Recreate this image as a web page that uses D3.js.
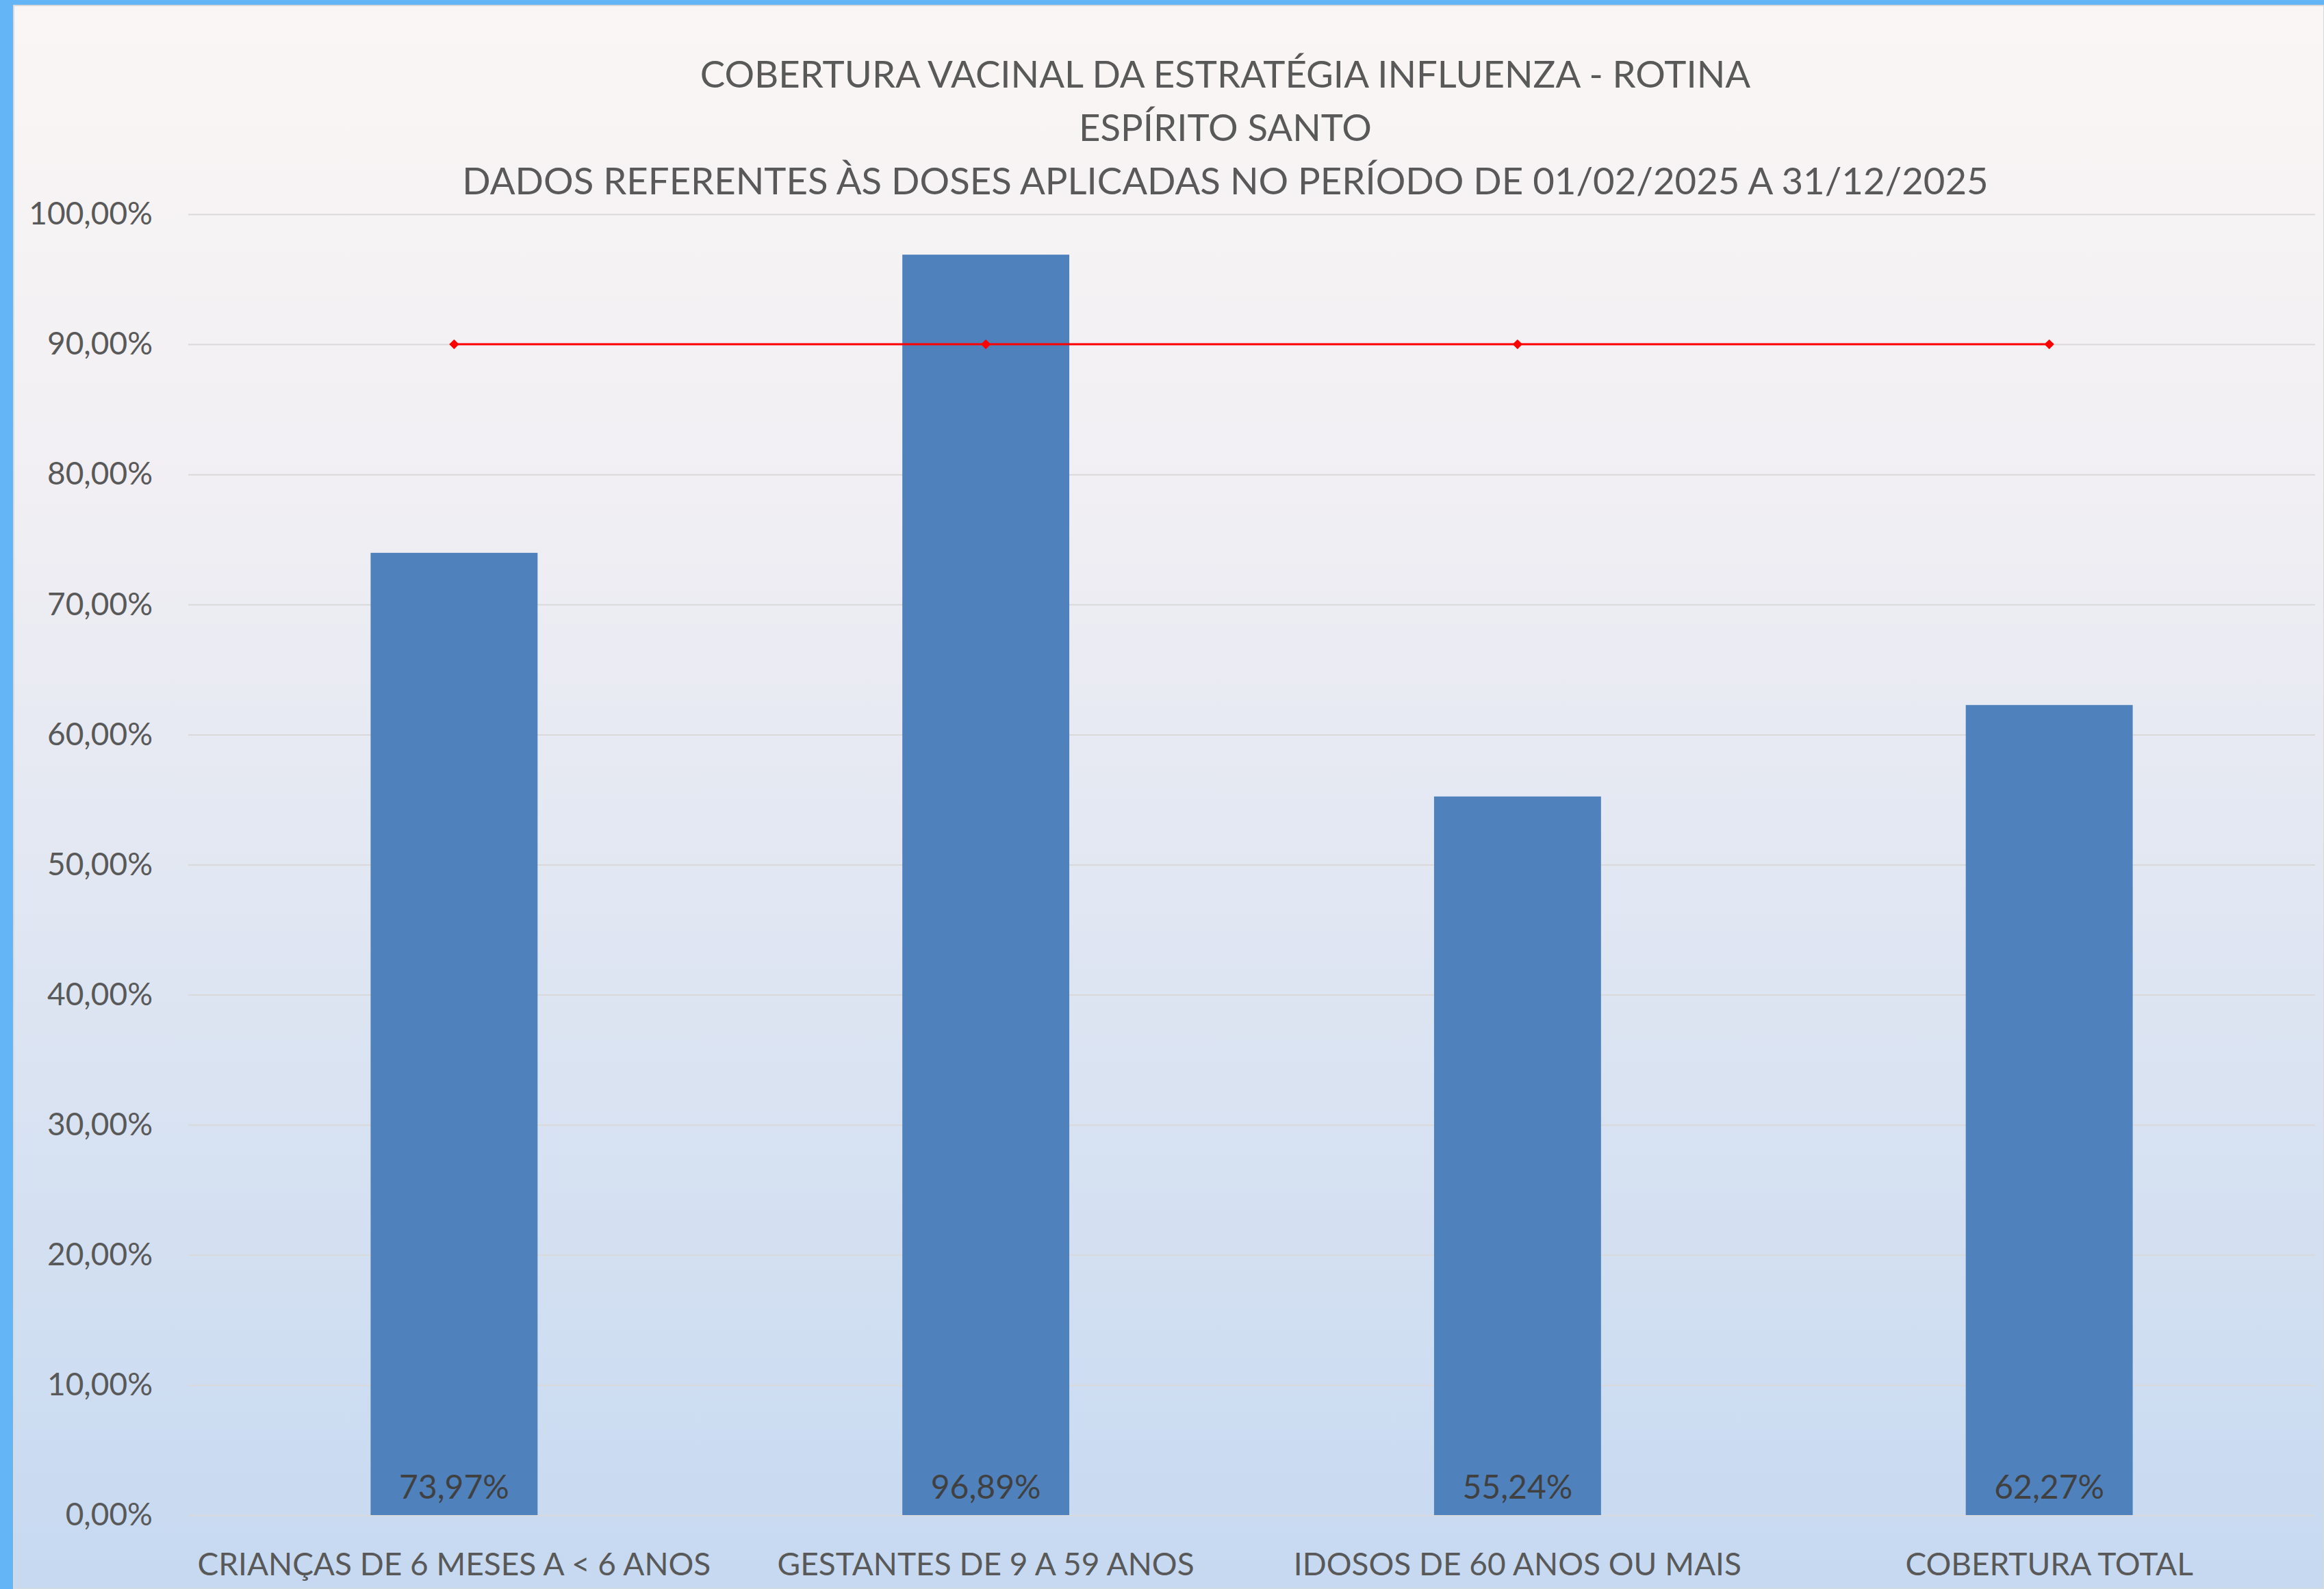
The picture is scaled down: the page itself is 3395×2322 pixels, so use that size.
<!DOCTYPE html>
<html>
<head>
<meta charset="utf-8">
<script src="https://cdn.jsdelivr.net/npm/d3@7"></script>
<style>
  body { margin: 0; background: #64b5f6; }
  svg { display: block; }
</style>
</head>
<body>
<div id="chart"></div>
<script>
var W = 3395, H = 2322;

// data
var categories = ["CRIANÇAS DE 6 MESES A < 6 ANOS", "GESTANTES DE 9 A 59 ANOS", "IDOSOS DE 60 ANOS OU MAIS", "COBERTURA TOTAL"];
var coverage = [0.7397, 0.9689, 0.5524, 0.6227];
var goal = [0.90, 0.90, 0.90, 0.90];
var yTicks = [0, 0.1, 0.2, 0.3, 0.4, 0.5, 0.6, 0.7, 0.8, 0.9, 1.0];
var titleLines = [
  "COBERTURA VACINAL DA ESTRATÉGIA INFLUENZA - ROTINA",
  "ESPÍRITO SANTO",
  "DADOS REFERENTES ÀS DOSES APLICADAS NO PERÍODO DE 01/02/2025 A 31/12/2025"
];

var plot = { left: 275, right: 3382, top: 313, bottom: 2214 };
var font = "Lato, 'Open Sans', sans-serif";

var ptBR = d3.formatLocale({ decimal: ",", thousands: ".", grouping: [3], currency: ["R$", ""] });
var pct = ptBR.format(".2%");

var svg = d3.select("#chart").append("svg")
    .attr("width", W)
    .attr("height", H);

// background gradient, like the excel chart area
var grad = svg.append("defs").append("linearGradient")
    .attr("id", "bg")
    .attr("x1", 0).attr("y1", 0).attr("x2", 0).attr("y2", 1);
grad.append("stop").attr("offset", "0%").attr("stop-color", "#faf6f5");
grad.append("stop").attr("offset", "30%").attr("stop-color", "#f1eff3");
grad.append("stop").attr("offset", "100%").attr("stop-color", "#c6d9f1");

svg.append("rect")
    .attr("x", 0).attr("y", 0)
    .attr("width", W).attr("height", H)
    .attr("fill", "#64b5f6");

svg.append("rect")
    .attr("x", 20).attr("y", 8)
    .attr("width", W - 20).attr("height", H - 8)
    .attr("fill", "url(#bg)")
    .attr("stroke", "#d9d9d9")
    .attr("stroke-width", 2);

var x = d3.scaleBand()
    .domain(categories)
    .range([plot.left, plot.right])
    .padding(0);

var y = d3.scaleLinear()
    .domain([0, 1])
    .range([plot.bottom, plot.top]);

var barW = x.bandwidth() * 0.314;

// y axis + gridlines
var yAxis = svg.append("g")
    .attr("transform", "translate(" + plot.left + ",0)")
    .call(d3.axisLeft(y)
        .tickValues(yTicks)
        .tickFormat(pct)
        .tickSize(-(plot.right - plot.left))
        .tickPadding(52));

yAxis.select(".domain").remove();
yAxis.selectAll(".tick line")
    .attr("stroke", "#d9d9d9")
    .attr("stroke-width", 2);
yAxis.selectAll(".tick text")
    .attr("fill", "#595959")
    .style("font-family", font)
    .style("font-size", "46px");

// bars
svg.selectAll(".bar")
    .data(coverage)
    .enter().append("rect")
    .attr("class", "bar")
    .attr("x", function (d, i) { return x(categories[i]) + (x.bandwidth() - barW) / 2; })
    .attr("y", function (d) { return y(d); })
    .attr("width", barW)
    .attr("height", function (d) { return y(0) - y(d); })
    .attr("fill", "#4f81bd");

// data labels sit at the bottom of the bars
svg.selectAll(".bar-label")
    .data(coverage)
    .enter().append("text")
    .attr("class", "bar-label")
    .attr("x", function (d, i) { return x(categories[i]) + x.bandwidth() / 2; })
    .attr("y", y(0) - 24)
    .attr("text-anchor", "middle")
    .attr("fill", "#404040")
    .style("font-family", font)
    .style("font-size", "48px")
    .text(function (d) { return pct(d); });

// goal line (90%)
var line = d3.line()
    .x(function (d, i) { return x(categories[i]) + x.bandwidth() / 2; })
    .y(function (d) { return y(d); });

svg.append("path")
    .datum(goal)
    .attr("d", line)
    .attr("fill", "none")
    .attr("stroke", "#ff0000")
    .attr("stroke-width", 3);

svg.selectAll(".goal-mark")
    .data(goal)
    .enter().append("path")
    .attr("class", "goal-mark")
    .attr("transform", function (d, i) {
        return "translate(" + (x(categories[i]) + x.bandwidth() / 2) + "," + y(d) + ")";
    })
    .attr("d", d3.symbol().type(d3.symbolDiamond2).size(130))
    .attr("fill", "#ff0000");

// x axis labels
var xAxis = svg.append("g")
    .attr("transform", "translate(0," + plot.bottom + ")")
    .call(d3.axisBottom(x).tickSize(0).tickPadding(0));

xAxis.select(".domain").remove();
xAxis.selectAll(".tick text")
    .attr("y", 88)
    .attr("dy", 0)
    .attr("fill", "#595959")
    .style("font-family", font)
    .style("font-size", "46px");

// title
svg.append("g").selectAll("text")
    .data(titleLines)
    .enter().append("text")
    .attr("x", 1790)
    .attr("y", function (d, i) { return 128 + i * 78; })
    .attr("text-anchor", "middle")
    .attr("fill", "#595959")
    .style("font-family", font)
    .style("font-size", "54.5px")
    .text(function (d) { return d; });
</script>
</body>
</html>
